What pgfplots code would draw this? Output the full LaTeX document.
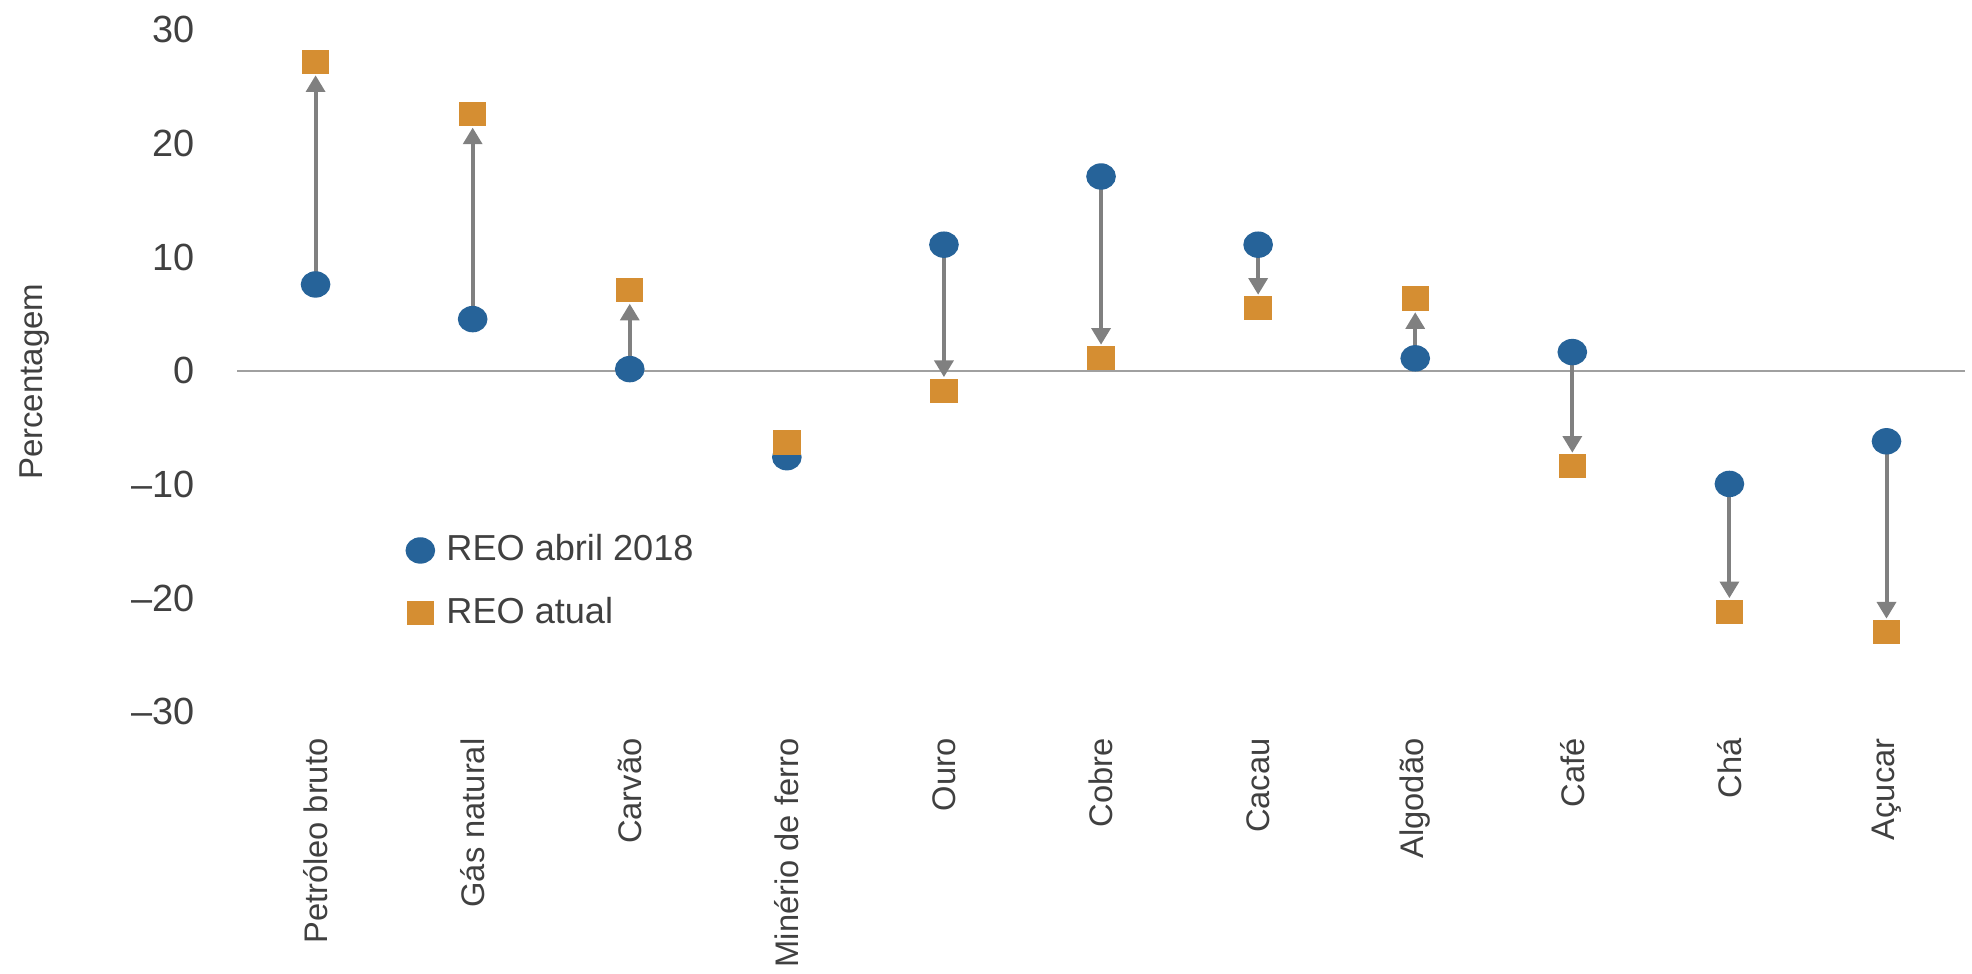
\documentclass[border=0pt]{standalone}
\usepackage{pgfplots}
\pgfplotsset{compat=1.18}
\usepackage{pgfplotstable}
\usepackage{fontspec}
\setmainfont{Liberation Sans}
\usetikzlibrary{arrows.meta}
\definecolor{reoblue}{RGB}{38,99,153}
\definecolor{reoorange}{RGB}{213,142,50}
\definecolor{txt}{RGB}{64,64,64}
\definecolor{arr}{RGB}{128,128,128}
\definecolor{zline}{RGB}{160,160,160}

\pgfplotstableread{
x old new
0 7.6 27.2
1 4.55 22.6
2 0.15 7.1
3 -7.6 -6.3
4 11.1 -1.75
5 17.1 1.1
6 11.1 5.5
7 1.1 6.35
8 1.65 -8.4
9 -9.95 -21.2
10 -6.2 -23.0
}\datatable

\begin{document}
\begin{tikzpicture}
\begin{axis}[
  scale only axis, width=497.2pt, height=196.2pt,
  xmin=-0.5, xmax=10.5, ymin=-30, ymax=30,
  axis x line*=bottom, axis y line*=left, axis line style={draw=none},
  major tick length=0pt,
  xtick={0,...,10},
  xticklabels={Petróleo bruto, Gás natural, Carvão, Minério de ferro, Ouro, Cobre, Cacau, Algodão, Café, Chá, Açucar},
  xticklabel style={yshift=-7.5pt, rotate=90, anchor=east, inner sep=0pt, font=\fontsize{9.4}{11}\selectfont, text=txt},
  ytick={-30,-20,...,30},
  yticklabels={\textendash30,\textendash20,\textendash10,0,10,20,30},
  yticklabel style={font=\fontsize{10.9}{12}\selectfont, text=txt, inner sep=0pt, xshift=-12pt},
  extra y ticks={0}, extra y tick labels={},
  extra y tick style={grid=major, major grid style={draw=zline, line width=0.7pt}},
  ylabel={Percentagem},
  ylabel style={at={(axis description cs:-0.117,0.484)}, anchor=center, font=\fontsize{9.5}{11}\selectfont, text=txt},
  legend style={at={(axis description cs:0.0975,0.1906)}, anchor=west, draw=none, fill=none,
     font=\fontsize{10.4}{13}\selectfont, text=txt, row sep=7pt, inner sep=0pt,
     nodes={inner sep=1pt}},
  legend cell align=left,
  legend image code/.code={\draw[#1] plot coordinates {(0pt,0pt)}; \path (-3.8pt,0pt) (6.3pt,0pt);},
]
\addplot[forget plot, draw=arr, line width=1.15pt,
  quiver={u=0, v=\thisrow{new}-\thisrow{old}},
  -{Triangle[width=5.4pt,length=4.8pt]}, shorten <=3.6pt, shorten >=3.9pt,
  skip coords between index={3}{4}]
  table[x=x, y=old]{\datatable};
\addplot[only marks, mark=*, mark size=3.6pt, mark options={fill=reoblue, draw=reoblue, xscale=1.13}]
  table[x=x, y=old]{\datatable};
\addlegendentry{REO abril 2018}
\addplot[only marks, mark=square*, mark size=3.3pt, mark options={fill=reoorange, draw=reoorange, xscale=1.13}]
  table[x=x, y=new]{\datatable};
\addlegendentry{REO atual}
\end{axis}
\pgfresetboundingbox
\useasboundingbox ([shift={(-68.2pt,-75.4pt)}]current axis.south west) rectangle ([shift={(2pt,8.6pt)}]current axis.north east);
\end{tikzpicture}
\end{document}
